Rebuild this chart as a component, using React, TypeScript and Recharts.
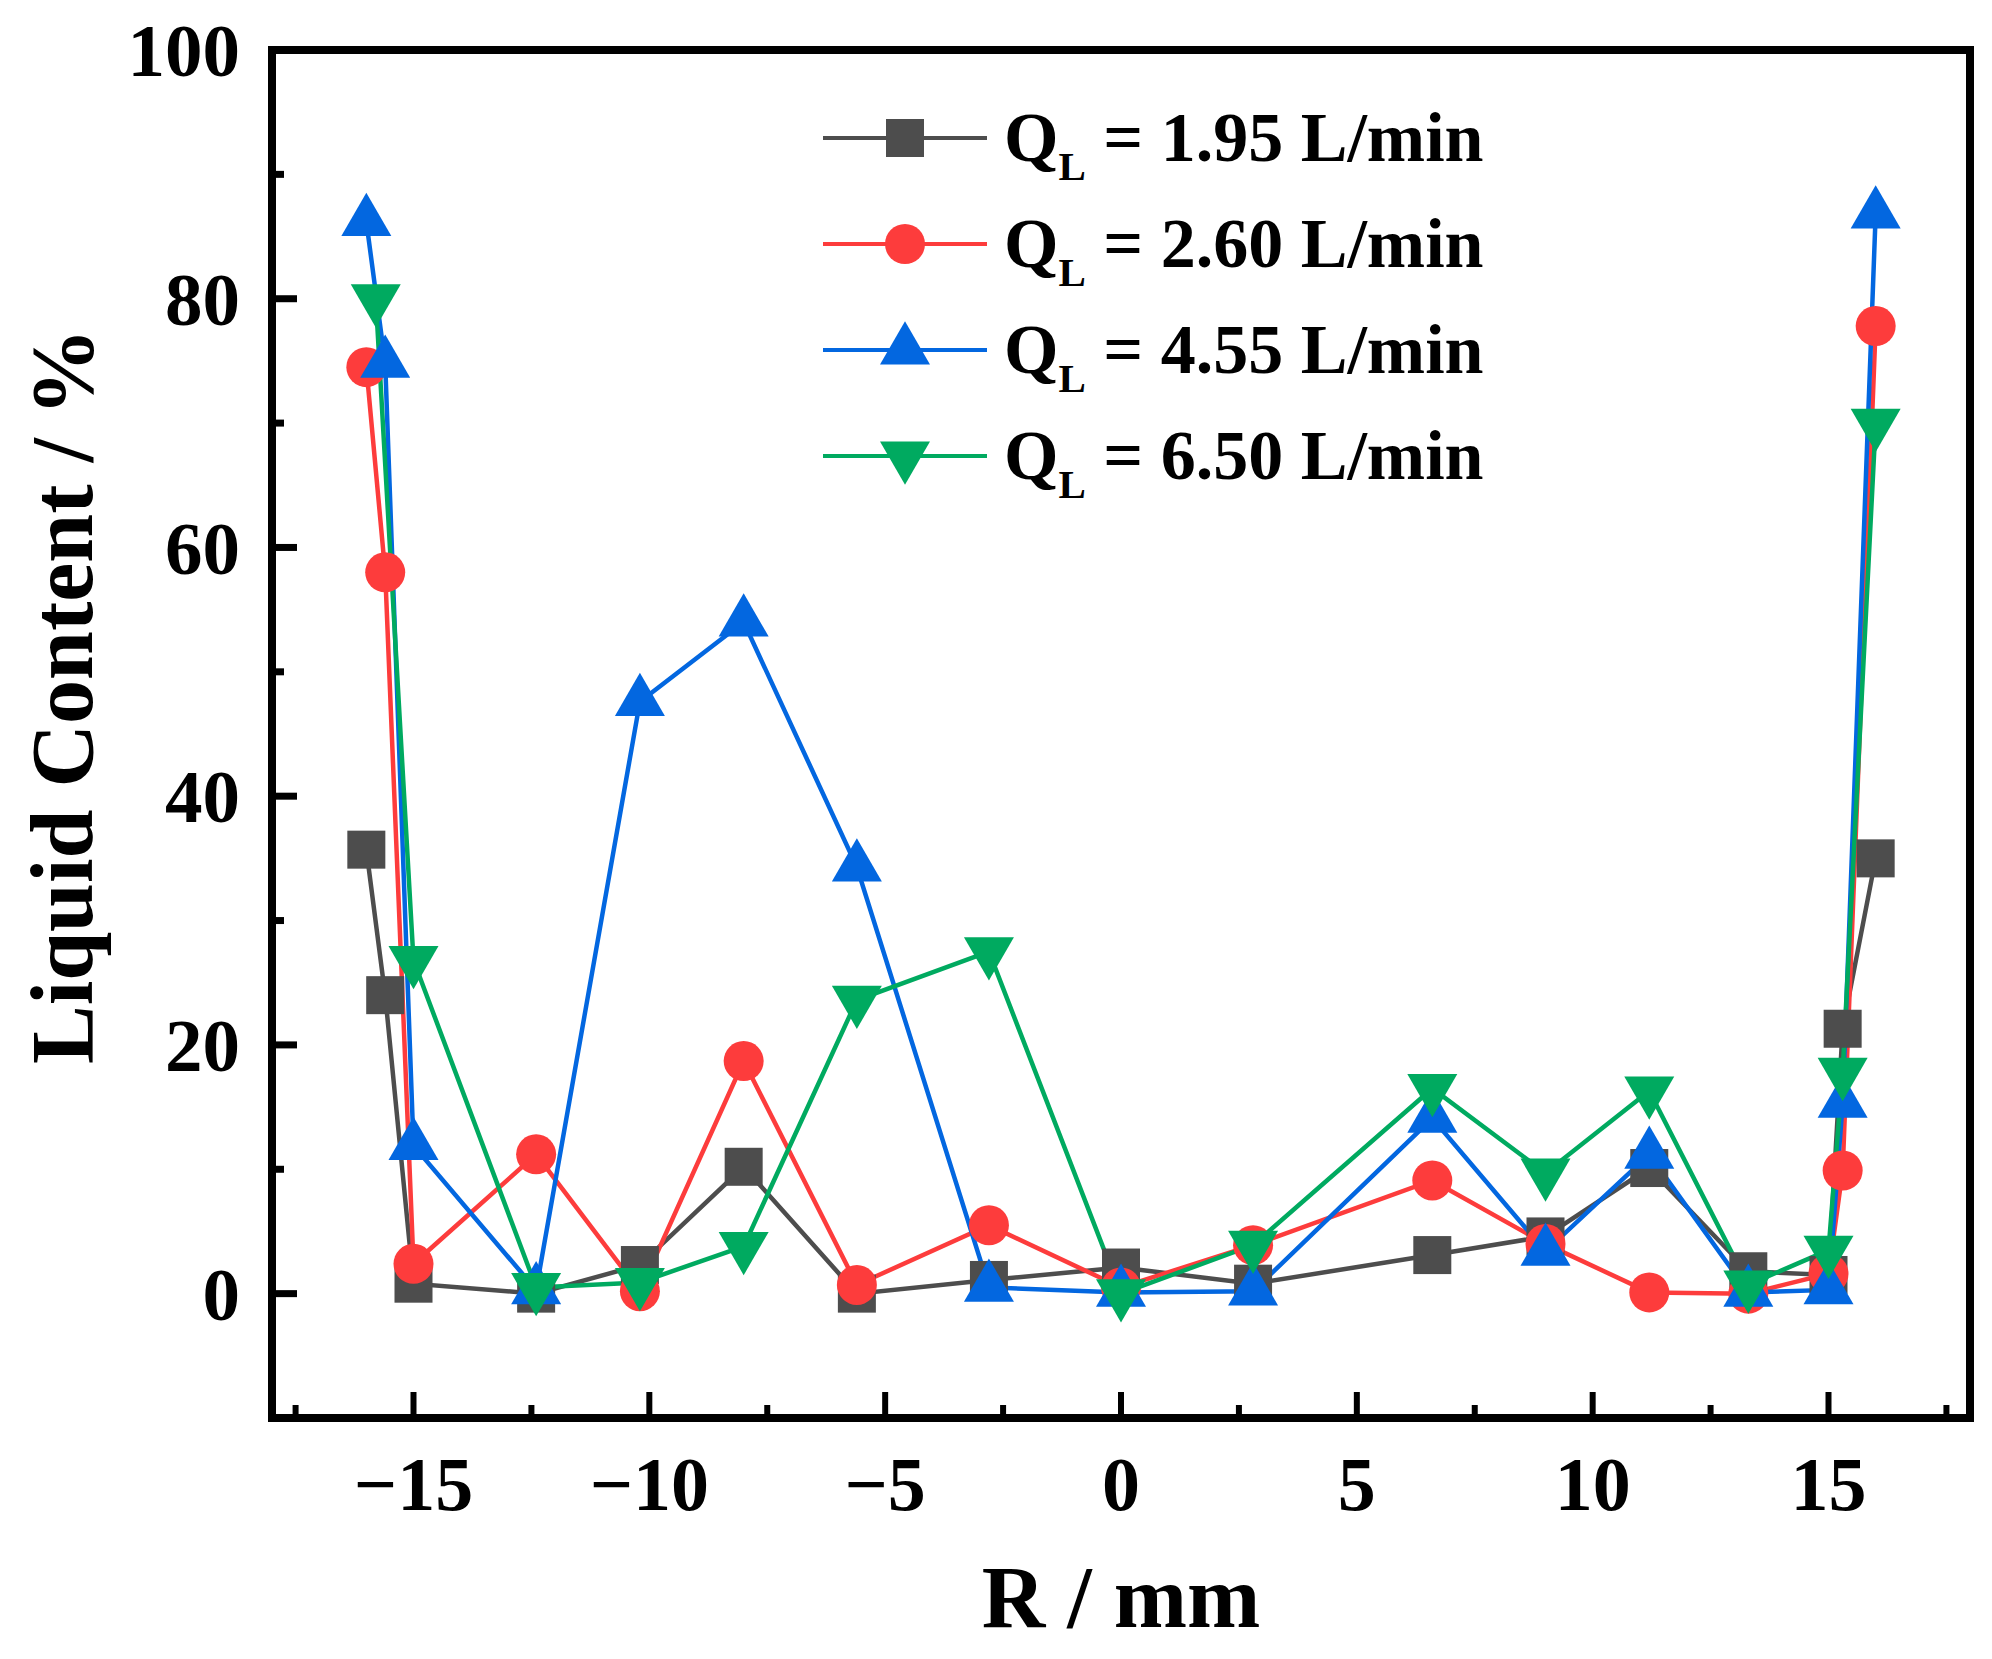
import React from 'react'
import { LineChart, Line, XAxis, YAxis, ReferenceArea, Legend, Label } from 'recharts'

// radial positions (mm)
const radius = [-16, -15.6, -15, -12.4, -10.2, -8, -5.6, -2.8, 0, 2.8, 6.6, 9, 11.2, 13.3, 15, 15.3, 16]
const radiusHigh = [-15.8, -15, -12.4, -10.2, -8, -5.6, -2.8, 0, 2.8, 6.6, 9, 11.2, 13.3, 15, 15.3, 16]

// liquid content (%)
const q195 = [35.7, 24.0, 0.8, 0, 2.3, 10.2, 0, 1.1, 2.1, 0.8, 3.1, 4.6, 10.1, 1.8, 1.5, 21.3, 35.0]
const q260 = [74.5, 58.0, 2.4, 11.2, 0.2, 18.7, 0.7, 5.5, 0.5, 3.9, 9.1, 4.0, 0.1, 0, 1.6, 9.9, 77.8]
const q455 = [86.2, 74.8, 11.9, 0.3, 47.6, 54.0, 34.3, 0.5, 0.1, 0.2, 14.1, 3.4, 11.2, 0.1, 0.3, 15.3, 86.8]
const q650 = [80.0, 26.8, 0.5, 0.9, 3.8, 23.6, 27.5, 0, 3.9, 16.5, 9.7, 16.3, 0.7, 3.5, 17.8, 70.0]

const xTicks = [-17.5, -15, -12.5, -10, -7.5, -5, -2.5, 0, 2.5, 5, 7.5, 10, 12.5, 15, 17.5]
const yTicks = [-10, 0, 10, 20, 30, 40, 50, 60, 70, 80, 90, 100]

const FONT = '"Liberation Serif", "Times New Roman", serif'

const toPoints = (xs: number[], ys: number[]) => xs.map((x, i) => ({ x, y: ys[i] }))

const series = [
  { name: '1.95', color: '#4d4d4d', shape: 'square', data: toPoints(radius, q195) },
  { name: '2.60', color: '#fd3c3c', shape: 'circle', data: toPoints(radius, q260) },
  { name: '4.55', color: '#0367e0', shape: 'up', data: toPoints(radius, q455) },
  { name: '6.50', color: '#00aa60', shape: 'down', data: toPoints(radiusHigh, q650) },
]

const TRI = 50
const TRI_H = (TRI * Math.sqrt(3)) / 2

function Marker({ shape, cx, cy, color }: { shape: string; cx: number; cy: number; color: string }) {
  if (shape === 'square') return <rect x={cx - 19} y={cy - 19} width={38} height={38} fill={color} />
  if (shape === 'circle') return <circle cx={cx} cy={cy} r={20} fill={color} />
  const s = shape === 'up' ? 1 : -1
  const pts = [
    [cx, cy - s * (2 / 3) * TRI_H],
    [cx - TRI / 2, cy + s * TRI_H / 3],
    [cx + TRI / 2, cy + s * TRI_H / 3],
  ]
  return <polygon points={pts.map((p) => p.join(',')).join(' ')} fill={color} />
}

const fmt = (v: number) => (v < 0 ? `\u2212${Math.abs(v)}` : `${v}`)

const Y_GAP = 32
const X_GAP = 65

const YTick = (props: any) => {
  const { x, y, payload } = props
  const v = payload.value
  const ax = x + Y_GAP
  const major = v % 20 === 0
  const edge = v === -10 || v === 100
  return (
    <g>
      {!edge && <line x1={ax} x2={ax + (major ? 25 : 12)} y1={y} y2={y} stroke="#000" strokeWidth={7} />}
      {major && v >= 0 && (
        <text x={x} y={y} dy="0.35em" textAnchor="end" fontFamily={FONT} fontWeight="bold" fontSize={75} fill="#000">
          {v}
        </text>
      )}
    </g>
  )
}

const XTick = (props: any) => {
  const { x, y, payload } = props
  const v = payload.value
  const ay = y - X_GAP
  const major = v % 5 === 0
  return (
    <g>
      <line x1={x} x2={x} y1={ay} y2={ay - (major ? 26 : 13)} stroke="#000" strokeWidth={6} />
      {major && (
        <text x={x} y={y} dy="0.35em" textAnchor="middle" fontFamily={FONT} fontWeight="bold" fontSize={76} fill="#000">
          {fmt(v)}
        </text>
      )}
    </g>
  )
}

const LegendBox = () => (
  <div style={{ fontFamily: FONT, fontWeight: 'bold', color: '#000' }}>
    {series.map((s) => (
      <div key={s.name} style={{ display: 'flex', alignItems: 'center', height: 106 }}>
        <svg width={164} height={106} style={{ overflow: 'visible' }}>
          <line x1={0} x2={164} y1={53} y2={53} stroke={s.color} strokeWidth={4} />
          <Marker shape={s.shape} cx={82} cy={53} color={s.color} />
        </svg>
        <span style={{ marginLeft: 17, fontSize: 70, lineHeight: '106px', whiteSpace: 'nowrap' }}>
          Q<span style={{ fontSize: 41, verticalAlign: -19, lineHeight: 1 }}>L</span> = {s.name} L/min
        </span>
      </div>
    ))}
  </div>
)

export default function App() {
  return (
    <LineChart width={1976} height={1643} margin={{ top: 42, right: 14, left: 0, bottom: 0 }}>
      <XAxis
        dataKey="x"
        type="number"
        domain={[-18, 18]}
        ticks={xTicks}
        interval={0}
        axisLine={false}
        tickLine={false}
        tickSize={0}
        tickMargin={X_GAP}
        tick={<XTick />}
        height={233}
      >
        <Label
          content={({ viewBox }: any) => (
            <text
              x={viewBox.x + viewBox.width / 2}
              y={viewBox.y + viewBox.height - 24}
              textAnchor="middle"
              fontFamily={FONT}
              fontWeight="bold"
              fontSize={88}
              fill="#000"
            >
              R / mm
            </text>
          )}
        />
      </XAxis>
      <YAxis
        dataKey="y"
        type="number"
        domain={[-10, 100]}
        ticks={yTicks}
        interval={0}
        axisLine={false}
        tickLine={false}
        tickSize={0}
        tickMargin={Y_GAP}
        tick={<YTick />}
        width={264}
      >
        <Label
          content={({ viewBox }: any) => {
            const cx = viewBox.x + 84
            const cy = viewBox.y + viewBox.height / 2 - 38
            return (
              <text
                x={cx}
                y={cy}
                transform={`rotate(-90, ${cx}, ${cy})`}
                textAnchor="middle"
                fontFamily={FONT}
                fontWeight="bold"
                fontSize={88}
                fill="#000"
              >
                Liquid Content / %
              </text>
            )
          }}
        />
      </YAxis>
      <ReferenceArea x1={-18} x2={18} y1={-10} y2={100} fill="none" stroke="#000" strokeWidth={8} ifOverflow="visible" />
      {series.map((s) => (
        <Line
          key={s.name}
          data={s.data}
          dataKey="y"
          name={s.name}
          stroke={s.color}
          strokeWidth={4.5}
          isAnimationActive={false}
          activeDot={false}
          dot={(p: any) => <Marker key={`${s.name}-${p.index}`} shape={s.shape} cx={p.cx} cy={p.cy} color={s.color} />}
        />
      ))}
      <Legend
        layout="vertical"
        align="center"
        verticalAlign="middle"
        content={<LegendBox />}
        wrapperStyle={{ left: 815, top: 77, width: 720 }}
      />
    </LineChart>
  )
}
